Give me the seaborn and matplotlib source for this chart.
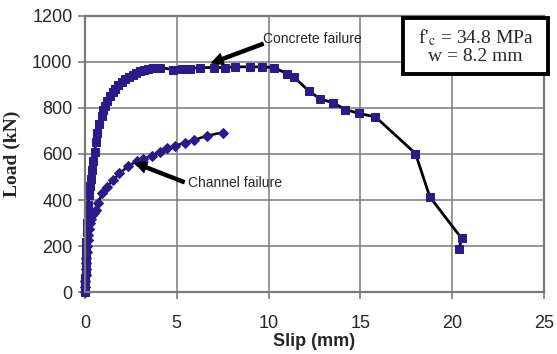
import seaborn as sns
import matplotlib.pyplot as plt
from matplotlib.patches import Rectangle

# concrete failure curve (squares)
concrete_slip = [0, 0.01, 0.02, 0.03, 0.04, 0.05, 0.06, 0.08, 0.1, 0.12, 0.15, 0.18, 0.22, 0.27,
                 0.32, 0.38, 0.45, 0.52, 0.6, 0.68, 0.78, 0.9, 1.0, 1.1, 1.22, 1.35, 1.5, 1.65,
                 1.8, 2.0, 2.2, 2.4, 2.6, 2.8, 3.0, 3.2, 3.45, 3.73, 4.09, 4.82, 5.27, 5.73,
                 6.27, 7.0, 7.64, 8.18, 9.0, 9.64, 10.27, 11.0, 11.4, 12.18, 12.82, 13.49,
                 14.18, 14.93, 15.82, 18.0, 18.78, 20.51, 20.37]
concrete_load = [0, 30, 60, 90, 120, 150, 180, 220, 260, 300, 340, 380, 420, 460,
                 490, 530, 570, 610, 650, 690, 730, 765, 790, 810, 830, 850, 868, 884,
                 898, 912, 924, 935, 944, 952, 958, 964, 969, 973, 975, 966, 967, 970,
                 975, 975, 975, 978, 978, 978, 975, 949, 932, 874, 838, 823,
                 793, 776, 761, 602, 414, 234, 186]

# channel failure curve (diamonds)
channel_slip = [0, 0.01, 0.02, 0.03, 0.04, 0.05, 0.07, 0.09, 0.11, 0.14, 0.17, 0.21, 0.26,
                0.32, 0.4, 0.5, 0.6, 0.73, 0.91, 1.18, 1.55, 1.87, 2.36, 2.82, 3.18, 3.64,
                4.09, 4.45, 4.91, 5.46, 5.91, 6.64, 7.49]
channel_load = [0, 25, 50, 75, 100, 125, 150, 175, 200, 225, 250, 275, 300,
                320, 335, 345, 355, 386, 429, 458, 487, 516, 547, 569, 580, 592,
                609, 624, 636, 649, 660, 679, 693]

x_ticks = [0, 5, 10, 15, 20, 25]
y_ticks = [0, 200, 400, 600, 800, 1000, 1200]

navy = '#2c1a88'
grey = '#7a7a7a'

sns.set_style('white')
plt.rcParams['font.family'] = ['Liberation Sans', 'DejaVu Sans']
plt.rcParams['mathtext.fontset'] = 'stix'

fig = plt.figure(figsize=(5.57, 3.54), dpi=100)
ax = fig.add_axes([0.1526, 0.1743, 0.8241, 0.7814])

sns.lineplot(x=channel_slip, y=channel_load, sort=False, estimator=None, ax=ax,
             color='black', lw=1.8, marker='D', markersize=5.5,
             markerfacecolor=navy, markeredgecolor=navy, clip_on=False)
sns.lineplot(x=concrete_slip, y=concrete_load, sort=False, estimator=None, ax=ax,
             color='black', lw=2, marker='s', markersize=6,
             markerfacecolor=navy, markeredgecolor=navy, clip_on=False)

ax.set_xlim(0, 25)
ax.set_ylim(0, 1200)
ax.set_xticks(x_ticks)
ax.set_yticks(y_ticks)
ax.grid(True, color=grey, lw=1.1)
ax.set_axisbelow(True)
for s in ax.spines.values():
    s.set_color(grey)
    s.set_linewidth(1.6)
ax.tick_params(axis='x', bottom=True, length=5, width=1.2, color=grey, pad=11, labelsize=13)
ax.tick_params(axis='y', left=True, length=5, width=1.2, color=grey, pad=4, labelsize=13)
ax.set_xlabel('Slip (mm)', fontsize=13, fontweight='bold', labelpad=1)
ax.set_ylabel('Load (kN)', fontsize=14, fontweight='bold', family='Liberation Serif', labelpad=8)

# annotations
ax.annotate('', xy=(6.9, 995), xytext=(9.7, 1078),
            arrowprops=dict(facecolor='black', edgecolor='black', width=2.2,
                            headwidth=8, headlength=8, shrink=0))
ax.text(9.7, 1100, 'Concrete failure', fontsize=10, ha='left', va='center')
ax.annotate('', xy=(2.75, 560), xytext=(5.4, 478),
            arrowprops=dict(facecolor='black', edgecolor='black', width=2.2,
                            headwidth=8, headlength=8, shrink=0))
ax.text(5.6, 474, 'Channel failure', fontsize=10, ha='left', va='center')

# parameter box
fig.add_artist(Rectangle((0.7235, 0.791), 0.2603, 0.158, transform=fig.transFigure,
                         facecolor='white', edgecolor='black', lw=2.8, zorder=5))
fig.text(0.8537, 0.870, "f'$_{\\mathrm{c}}$ = 34.8 MPa\nw = 8.2 mm",
         family='Liberation Serif', fontsize=14, ha='center', va='center',
         multialignment='center', linespacing=1.05, zorder=6)

fig.savefig('out.png', dpi=100)
